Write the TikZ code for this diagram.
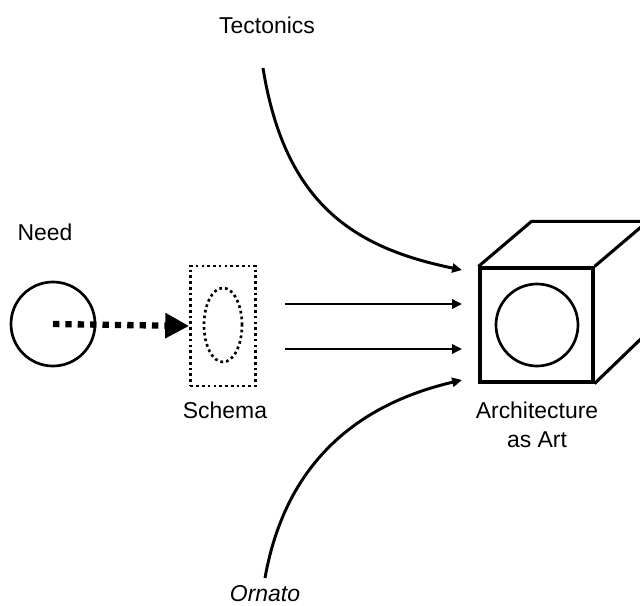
\documentclass[tikz,border=0pt]{standalone}
\usepackage{fontspec}
\setmainfont{Liberation Sans}
\usetikzlibrary{arrows.meta,shapes.geometric}

\tikzset{
  lbl/.style={font=\fontsize{16.3}{21}\selectfont, align=center},
  feed/.style={line width=2.1pt, -{Triangle[length=7pt,width=6.5pt]}},
  dotbox/.style={draw, line width=1.9pt, dash pattern=on 1.9pt off 2.2pt}
}

\begin{document}
\begin{tikzpicture}[x=0.025cm,y=-0.025cm]
\useasboundingbox (0,0) rectangle (640,606);
\clip (0,0) rectangle (640,606);

% need, schema and the cube
\node[circle,draw,line width=1.9pt,minimum size=2.1cm] (need) at (53,324) {};
\node[dotbox,minimum width=1.625cm,minimum height=3cm] (schema) at (223,326) {};
\node[dotbox,ellipse,minimum width=0.95cm,minimum height=1.85cm] (schemaeye) at (223,325) {};
\node[draw,line width=2.2pt,minimum width=2.825cm,minimum height=2.85cm] (front) at (536.5,325) {};
\node[circle,draw,line width=1.9pt,minimum size=2.05cm] (eye) at (537,325) {};
\draw[line width=2.2pt,line join=round] (front.north west) -- ++(53,-45) -- ++(113,0) -- ++(0,114) -- (front.south east);
\draw[line width=2.2pt] (front.north east) -- ++(53,-45);

% heavy dotted arrow from need into schema
\draw[line width=4.5pt, dash pattern=on 4.5pt off 4.3pt, -{Triangle[length=17pt,width=17pt]}]
  (need.center) -- (schema.west);

% feeds into the cube
\coordinate (tec) at (263,68);
\coordinate (orn) at (265,578);
\coordinate (s1) at (285,304);
\coordinate (s2) at (285,349);
\coordinate (in1) at (462,270);
\coordinate (in2) at (462,304);
\coordinate (in3) at (462,349);
\coordinate (in4) at (462,380);
\draw[feed] (tec) .. controls (285,205) and (355,248) .. (in1);
\draw[feed] (s1) -- (in2);
\draw[feed] (s2) -- (in3);
\draw[feed] (orn) .. controls (285,465) and (355,405) .. (in4);

% labels
\node[lbl] (tectonics) at (267,25) {Tectonics};
\node[lbl] (needlbl) at (45,232) {Need};
\node[lbl] (schemalbl) at (225,410) {Schema};
\node[lbl] (archlbl) at (537,425) {Architecture\\as Art};
\node[lbl,font=\fontsize{16.3}{21}\selectfont\itshape] (ornato) at (265,594) {Ornato};
\end{tikzpicture}
\end{document}
